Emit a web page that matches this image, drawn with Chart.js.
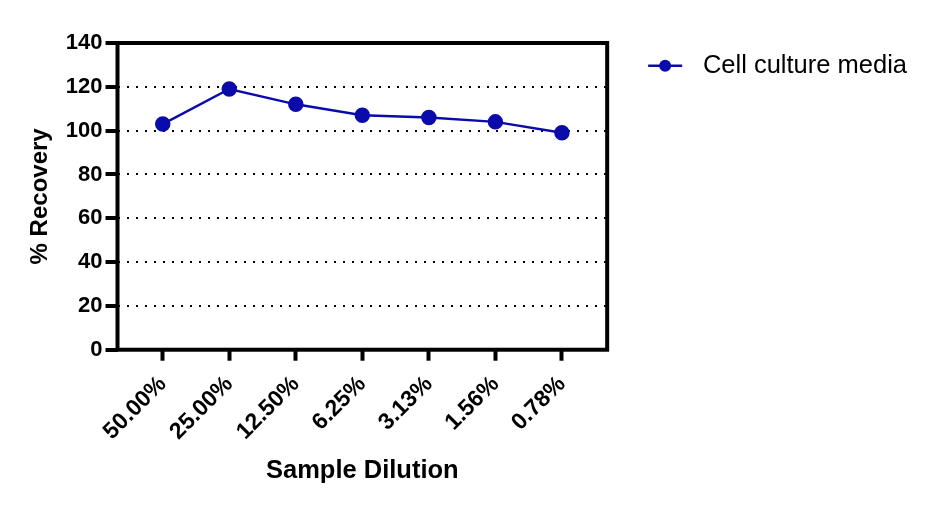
<!DOCTYPE html>
<html>
<head>
<meta charset="utf-8">
<script src="https://cdn.jsdelivr.net/npm/chart.js@4"></script>
<style>
  html, body { margin: 0; padding: 0; background: #fff; }
  #wrap { width: 930px; height: 507px; }
</style>
</head>
<body>
<div id="wrap"><canvas id="recovery"></canvas></div>
<script>
const dilutions = ['50.00%', '25.00%', '12.50%', '6.25%', '3.13%', '1.56%', '0.78%'];
const recovery = [103, 119, 112, 107, 106, 104, 99];
const seriesName = 'Cell culture media';
const yTicks = [0, 20, 40, 60, 80, 100, 120, 140];

const FONT = "'Liberation Sans', Arial, sans-serif";
const BLUE = '#0b0bab';

// black box round the plot area
const framePlugin = {
    id: 'frame',
    afterDatasetsDraw(chart) {
        const a = chart.chartArea;
        const ctx = chart.ctx;
        ctx.save();
        ctx.strokeStyle = '#000';
        ctx.lineWidth = 4;
        ctx.strokeRect(a.left, a.top, a.right - a.left, a.bottom - a.top);
        ctx.restore();
    }
};

// legend marker: short line with a dot
const legendMarker = {
    id: 'legendMarker',
    afterDraw(chart) {
        const box = chart.legend.legendHitBoxes[0];
        if (!box) return;
        const ctx = chart.ctx;
        const y = box.top + box.height / 2;
        ctx.save();
        ctx.strokeStyle = BLUE;
        ctx.fillStyle = BLUE;
        ctx.lineWidth = 2.5;
        ctx.beginPath();
        ctx.moveTo(box.left, y);
        ctx.lineTo(box.left + 34, y);
        ctx.stroke();
        ctx.beginPath();
        ctx.arc(box.left + 17, y, 6, 0, Math.PI * 2);
        ctx.fill();
        ctx.restore();
    }
};

document.addEventListener('DOMContentLoaded', () => {
    const ctx = document.getElementById('recovery');

    new Chart(ctx, {
        type: 'line',
        data: {
            datasets: [{
                label: seriesName,
                data: recovery.map((v, i) => ({ x: i, y: v })),
                borderColor: BLUE,
                backgroundColor: BLUE,
                borderWidth: 2.5,
                pointRadius: 6.5,
                pointHoverRadius: 6.5,
                fill: false,
                tension: 0
            }]
        },
        plugins: [framePlugin, legendMarker],
        options: {
            responsive: true,
            maintainAspectRatio: false,
            animation: false,
            layout: { padding: { left: 26, top: 43, right: 13, bottom: 21 } },
            plugins: {
                tooltip: { enabled: false },
                legend: {
                    position: 'right',
                    align: 'start',
                    maxWidth: 320,
                    labels: {
                        color: '#000',
                        font: { family: FONT, size: 25.5 },
                        boxWidth: 42,
                        boxHeight: 14,
                        padding: 10,
                        generateLabels: (chart) => chart.data.datasets.map((d, i) => ({
                            text: d.label,
                            datasetIndex: i,
                            fillStyle: 'rgba(0,0,0,0)',
                            strokeStyle: 'rgba(0,0,0,0)',
                            lineWidth: 0,
                            fontColor: '#000'
                        }))
                    }
                }
            },
            scales: {
                x: {
                    type: 'linear',
                    min: -0.68,
                    max: 6.68,
                    afterBuildTicks: (s) => { s.ticks = dilutions.map((_, i) => ({ value: i })); },
                    ticks: {
                        color: '#000',
                        font: { family: FONT, size: 23, weight: 'bold' },
                        maxRotation: 45,
                        minRotation: 45,
                        padding: 10,
                        callback: (v) => dilutions[v]
                    },
                    grid: {
                        drawOnChartArea: false,
                        drawTicks: true,
                        tickLength: 11,
                        tickWidth: 4,
                        tickColor: '#000'
                    },
                    border: { display: false },
                    title: {
                        display: true,
                        text: 'Sample Dilution',
                        color: '#000',
                        font: { family: FONT, size: 25.5, weight: 'bold' },
                        padding: { top: 0, bottom: 0 }
                    }
                },
                y: {
                    min: 0,
                    max: 140,
                    afterBuildTicks: (s) => { s.ticks = yTicks.map(v => ({ value: v })); },
                    ticks: {
                        color: '#000',
                        font: { family: FONT, size: 22, weight: 'bold' },
                        padding: 3
                    },
                    grid: {
                        color: '#000',
                        lineWidth: 2,
                        tickLength: 12,
                        tickWidth: 4,
                        tickColor: '#000'
                    },
                    border: { display: false, dash: [2, 7] },
                    title: {
                        display: true,
                        text: '% Recovery',
                        color: '#000',
                        font: { family: FONT, size: 24, weight: 'bold' },
                        padding: { top: 0, bottom: 8 }
                    }
                },
                gap: {
                    position: 'right',
                    display: true,
                    ticks: { display: false },
                    grid: { display: false },
                    border: { display: false },
                    afterFit: (s) => { s.width = 31; }
                }
            }
        }
    });
});
</script>
</body>
</html>
